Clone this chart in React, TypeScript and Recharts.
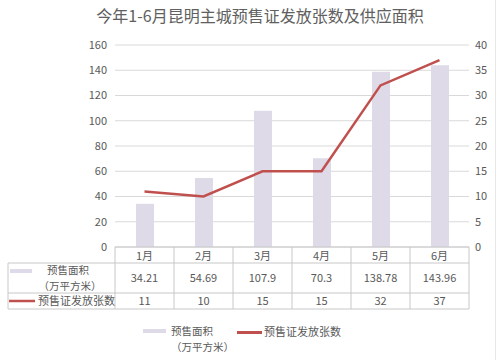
import { Bar, CartesianGrid, ComposedChart, Legend, Line, XAxis, YAxis } from "recharts";

const months = ["1月", "2月", "3月", "4月", "5月", "6月"];
const areaValues = [34.21, 54.69, 107.9, 70.3, 138.78, 143.96];
const areaLabels = ["34.21", "54.69", "107.9", "70.3", "138.78", "143.96"];
const permitCounts = [11, 10, 15, 15, 32, 37];
const leftTicks = [0, 20, 40, 60, 80, 100, 120, 140, 160];
const rightTicks = [0, 5, 10, 15, 20, 25, 30, 35, 40];

const title = "今年1-6月昆明主城预售证发放张数及供应面积";
const areaName = "预售面积";
const areaUnit = "（万平方米）";
const permitName = "预售证发放张数";

const BAR_COLOR = "#DEDAE8";
const LINE_COLOR = "#C0504D";
const GRID = "#D9D9D9";
const BORDER = "#C8C8C8";
const TEXT = "#595959";
const FONT = '"Noto Sans CJK SC", "Noto Sans", sans-serif';

const W = 500;
const H = 360;
const PLOT_LEFT = 115;
const PLOT_RIGHT = 469;
const BAND = (PLOT_RIGHT - PLOT_LEFT) / months.length;
const TABLE_LEFT = 8;

const data = months.map((m, i) => ({ month: m, area: areaValues[i], permits: permitCounts[i] }));

// x axis ticks double as the data table under the plot
function TableTick(props: any) {
  const { x, y, payload } = props;
  const i = props.index ?? payload.index;
  const half = BAND / 2;
  const r1 = y + 16;
  const r2 = y + 46;
  const bottom = y + 62;
  const left = x - half;
  const right = x + half;
  return (
    <g fontFamily={FONT} fill={TEXT}>
      <line x1={left} x2={left} y1={y} y2={bottom} stroke={BORDER} />
      {i === months.length - 1 && <line x1={right} x2={right} y1={y} y2={bottom} stroke={BORDER} />}
      <line x1={left} x2={right} y1={r1} y2={r1} stroke={BORDER} />
      <line x1={left} x2={right} y1={r2} y2={r2} stroke={BORDER} />
      <line x1={left} x2={right} y1={bottom} y2={bottom} stroke={BORDER} />
      <text x={x} y={y + 9} dy="0.35em" textAnchor="middle" fontSize={11}>{payload.value}</text>
      <text x={x} y={y + 31} dy="0.35em" textAnchor="middle" fontSize={11}>{areaLabels[i]}</text>
      <text x={x} y={y + 54} dy="0.35em" textAnchor="middle" fontSize={11}>{permitCounts[i]}</text>
      {i === 0 && (
        <g>
          <line x1={TABLE_LEFT} x2={left} y1={r1} y2={r1} stroke={BORDER} />
          <line x1={TABLE_LEFT} x2={left} y1={r2} y2={r2} stroke={BORDER} />
          <line x1={TABLE_LEFT} x2={left} y1={bottom} y2={bottom} stroke={BORDER} />
          <line x1={TABLE_LEFT} x2={TABLE_LEFT} y1={r1} y2={bottom} stroke={BORDER} />
          <rect x={10} y={y + 22} width={22} height={4} fill={BAR_COLOR} />
          <text textAnchor="middle" fontSize={10.5}>
            <tspan x={68} y={y + 27}>{areaName}</tspan>
            <tspan x={70} y={y + 42.5}>{areaUnit}</tspan>
          </text>
          <line x1={9} x2={35} y1={y + 54} y2={y + 54} stroke={LINE_COLOR} strokeWidth={2.5} />
          <text x={38} y={y + 54} dy="0.35em" fontSize={11}>{permitName}</text>
        </g>
      )}
    </g>
  );
}

function LegendBox() {
  const txt = { position: "absolute" as const, fontSize: 10.5, lineHeight: "15.5px", color: TEXT, whiteSpace: "nowrap" as const };
  return (
    <div style={{ position: "relative", height: 0, width: W, fontFamily: FONT }}>
      <div style={{ position: "absolute", left: 143, top: 9, width: 23, height: 4, background: BAR_COLOR }} />
      <div style={{ ...txt, left: 171, top: 3 }}>
        {areaName}
        <br />
        {areaUnit}
      </div>
      <div style={{ position: "absolute", left: 237, top: 11, width: 25, height: 2.5, background: LINE_COLOR }} />
      <div style={{ ...txt, left: 264, top: 4, fontSize: 11 }}>{permitName}</div>
    </div>
  );
}

export default function App() {
  return (
    <div style={{ position: "absolute", left: 0, top: 0, width: W, height: H, background: "#fff", fontFamily: FONT }}>
      <div style={{ position: "absolute", left: 0, top: 5, width: 520, textAlign: "center", fontSize: 16, color: "#606060", lineHeight: "20px" }}>
        {title}
      </div>
      <div style={{ position: "absolute", left: 495, top: 0, width: 1, height: H, background: "#E6E6E6" }} />
      <ComposedChart width={W} height={H} data={data} margin={{ top: 45, right: 0, bottom: 51, left: 0 }}>
        <CartesianGrid horizontal vertical={false} stroke={GRID} yAxisId="left" />
        <XAxis
          dataKey="month"
          height={62}
          interval={0}
          tickSize={0}
          tickMargin={0}
          tickLine={false}
          axisLine={{ stroke: BORDER }}
          tick={<TableTick />}
        />
        <YAxis
          yAxisId="left"
          width={115}
          domain={[0, 160]}
          ticks={leftTicks}
          axisLine={false}
          tickLine={false}
          tick={{ fill: TEXT, fontSize: 11, fontFamily: FONT }}
        />
        <YAxis
          yAxisId="right"
          orientation="right"
          width={31}
          domain={[0, 40]}
          ticks={rightTicks}
          axisLine={false}
          tickLine={false}
          tickMargin={0}
          tick={{ fill: TEXT, fontSize: 11, fontFamily: FONT }}
        />
        <Bar yAxisId="left" dataKey="area" name={areaName} fill={BAR_COLOR} barSize={18} isAnimationActive={false} />
        <Line
          yAxisId="right"
          dataKey="permits"
          name={permitName}
          type="linear"
          stroke={LINE_COLOR}
          strokeWidth={2.5}
          dot={false}
          activeDot={false}
          isAnimationActive={false}
        />
        <Legend wrapperStyle={{ top: 320, left: 0, width: W, height: 0 }} content={() => <LegendBox />} />
      </ComposedChart>
    </div>
  );
}
